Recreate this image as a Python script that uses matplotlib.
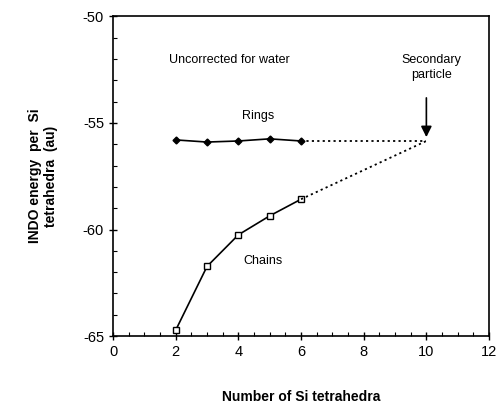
import matplotlib
matplotlib.use("Agg")
import matplotlib.pyplot as plt
from matplotlib.ticker import MultipleLocator

plt.rcParams['font.family'] = ['Liberation Sans', 'DejaVu Sans']
plt.rcParams['axes.unicode_minus'] = False

ring_x = [2, 3, 4, 5, 6]
ring_y = [-55.8, -55.9, -55.85, -55.75, -55.85]
chain_x = [2, 3, 4, 5, 6]
chain_y = [-64.72, -61.73, -60.25, -59.36, -58.58]
secondary_x = 10
secondary_y = -55.85

fig = plt.figure(figsize=(4.98, 4.05), dpi=100)
ax = fig.add_axes([0.227, 0.170, 0.755, 0.790])

ax.plot(ring_x, ring_y, color='black', lw=1.2, marker='D', ms=3.5, mfc='black')
ax.plot(chain_x, chain_y, color='black', lw=1.2, marker='s', ms=4.5, mfc='white', mew=1.0)
ax.plot([ring_x[-1], secondary_x], [ring_y[-1], secondary_y], color='black', lw=1.3, ls=(0, (1.2, 1.8)))
ax.plot([chain_x[-1], secondary_x], [chain_y[-1], secondary_y], color='black', lw=1.3, ls=(0, (1.2, 1.8)))

ax.annotate('', xy=(secondary_x, secondary_y + 0.05), xytext=(secondary_x, -53.7),
            arrowprops=dict(arrowstyle='-|>', color='black', lw=1.2, mutation_scale=16))
ax.text(10.15, -52.4, 'Secondary\nparticle', ha='center', va='center', fontsize=9, linespacing=1.3)
ax.text(1.8, -52.05, 'Uncorrected for water', ha='left', va='center', fontsize=9)
ax.text(4.63, -54.7, 'Rings', ha='center', va='center', fontsize=9)
ax.text(4.8, -61.5, 'Chains', ha='center', va='center', fontsize=9)

ax.set_xlim(0, 12)
ax.set_ylim(-65, -50)
ax.set_xticks([0, 2, 4, 6, 8, 10, 12])
ax.set_yticks([-65, -60, -55, -50])
ax.xaxis.set_minor_locator(MultipleLocator(0.5))
ax.yaxis.set_minor_locator(MultipleLocator(1))
ax.tick_params(which='major', direction='inout', length=6, width=1, labelsize=10.5)
ax.tick_params(which='minor', direction='in', length=3, width=0.8)
for s in ax.spines.values():
    s.set_linewidth(1.2)

ax.set_xlabel('Number of Si tetrahedra', fontsize=10, fontweight='bold', labelpad=22)
ax.set_ylabel('INDO energy  per  Si\ntetrahedra  (au)', fontsize=10, fontweight='bold', labelpad=18)

fig.savefig('out.png', dpi=100)
